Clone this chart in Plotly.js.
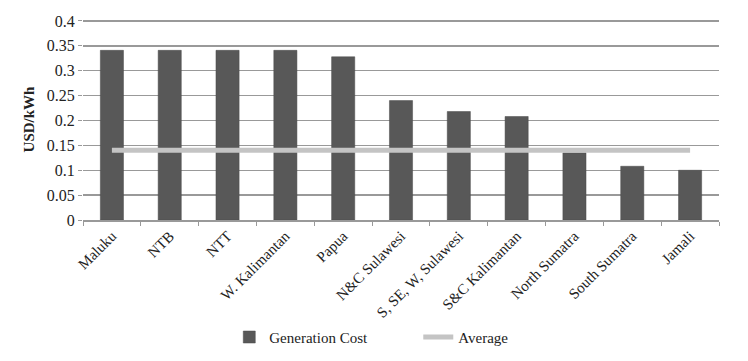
<!DOCTYPE html>
<html>
<head>
<meta charset="utf-8">
<script src="https://cdn.plot.ly/plotly-3.0.1.min.js"></script>
<style>
  html, body { margin: 0; padding: 0; background: #fff; }
  #chart { width: 748px; height: 361px; }
</style>
</head>
<body>
<div id="chart"></div>
<script>
// 地域ごとの発電コスト (USD/kWh)
const regions = ["Maluku", "NTB", "NTT", "W. Kalimantan", "Papua", "N&C Sulawesi",
  "S, SE, W, Sulawesi", "S&C Kalimantan", "North Sumatra", "South Sumatra", "Jamali"];
const genCost = [0.341, 0.341, 0.341, 0.341, 0.328, 0.24, 0.218, 0.208, 0.135, 0.108, 0.1];
const avgCost = [0.14, 0.14, 0.14, 0.14, 0.14, 0.14, 0.14, 0.14, 0.14, 0.14, 0.14];
const yTicks = [0, 0.05, 0.1, 0.15, 0.2, 0.25, 0.3, 0.35, 0.4];
const yTickText = ["0", "0.05", "0.1", "0.15", "0.2", "0.25", "0.3", "0.35", "0.4"];

const serif = "Liberation Serif";

const bars = {
  x: regions,
  y: genCost,
  type: "bar",
  name: "Generation Cost",
  width: 0.4,
  marker: { color: "#585858", line: { color: "#4a4a4a", width: 0.5 } },
};

const avgLine = {
  x: regions,
  y: avgCost,
  type: "scatter",
  mode: "lines",
  name: "Average",
  line: { color: "#c4c4c4", width: 5 },
};

const layout = {
  width: 748,
  height: 361,
  margin: { l: 83, r: 29, t: 19, b: 141 },
  paper_bgcolor: "#fff",
  plot_bgcolor: "#fff",
  font: { family: serif, size: 14, color: "#222" },
  showlegend: true,
  legend: {
    orientation: "h",
    x: 0.23, xanchor: "left",
    yref: "container", y: 0.02, yanchor: "bottom",
    font: { family: serif, size: 15, color: "#222" },
    traceorder: "normal",
    itemwidth: 30,
    entrywidth: 144,
    entrywidthmode: "pixels",
  },
  xaxis: {
    type: "category",
    tickangle: -45,
    tickson: "boundaries",
    ticks: "outside",
    ticklen: 4,
    tickcolor: "#999",
    showline: true,
    linecolor: "#999",
    linewidth: 1.5,
    showgrid: false,
    tickfont: { family: serif, size: 15, color: "#222" },
  },
  yaxis: {
    range: [0, 0.404],
    tickvals: yTicks,
    ticktext: yTickText,
    ticks: "outside",
    ticklen: 4,
    tickcolor: "#999",
    showgrid: true,
    gridcolor: "#999",
    gridwidth: 1.5,
    zeroline: false,
    showline: false,
    tickfont: { family: serif, size: 16, color: "#222" },
    title: { text: "<b>USD/kWh</b>", font: { family: serif, size: 15, color: "#222" }, standoff: 8 },
  },
};

Plotly.newPlot("chart", [bars, avgLine], layout, { displayModeBar: false, staticPlot: true });
</script>
</body>
</html>
